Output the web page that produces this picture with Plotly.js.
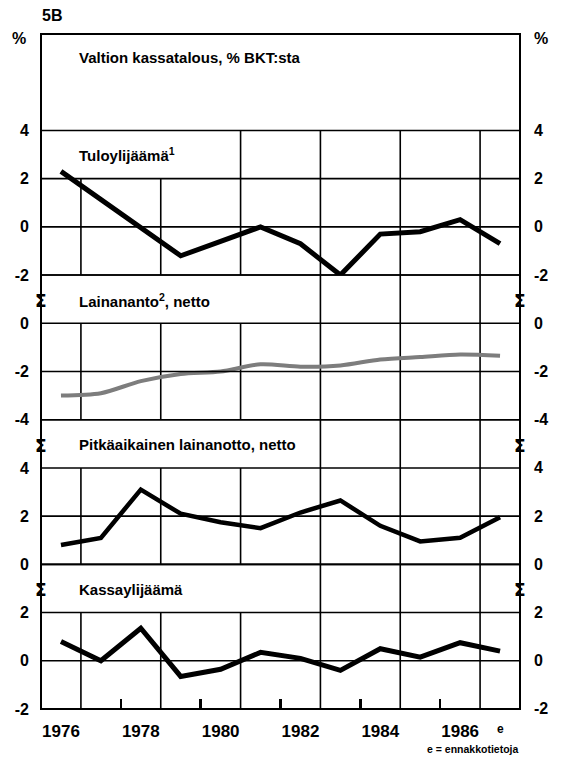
<!DOCTYPE html>
<html><head><meta charset="utf-8">
<script src="https://cdn.plot.ly/plotly-3.0.1.min.js"></script>
<style>html,body{margin:0;padding:0;background:#fff;}#chart{width:561px;height:761px;}</style>
</head><body><div id="chart"></div>
<script>
// ---- data ----
const years = [1976,1977,1978,1979,1980,1981,1982,1983,1984,1985,1986,1987];
const tuloylijaama   = [2.3, 1.15, 0.0, -1.2, -0.6, 0.0, -0.7, -2.0, -0.3, -0.2, 0.3, -0.7];
const lainananto     = [-3.0, -2.9, -2.4, -2.1, -2.0, -1.7, -1.8, -1.75, -1.5, -1.4, -1.3, -1.35];
const pitkaaikainen  = [0.8, 1.1, 3.1, 2.1, 1.75, 1.5, 2.15, 2.65, 1.6, 0.95, 1.1, 1.95];
const kassaylijaama  = [0.8, 0.0, 1.35, -0.65, -0.35, 0.35, 0.1, -0.4, 0.5, 0.15, 0.75, 0.4];
const yearTickVals = [1976,1978,1980,1982,1984,1986];
const yearTickText = ['1976','1978','1980','1982','1984','1986'];
const gridYears = [1976.5,1978.5,1980.5,1982.5,1984.5,1986.5];
const smallTickYears = [1977.5,1979.5,1981.5,1983.5,1985.5];
const forecastYear = 1987;
const chartTitle = 'Valtion kassatalous, % BKT:sta';
const panelTitles = ['Tuloylijäämä<sup>1</sup>', 'Lainananto<sup>2</sup>, netto', 'Pitkäaikainen lainanotto, netto', 'Kassaylijäämä'];
const panelTickVals = [[-2,0,2,4],[-4,-2,0],[0,2,4],[-2,0,2]];
const panelTickText = [['-2','0','2','4'],['-4','-2','0'],['0','2','4'],['-2','0','2']];
const panelGridVals = [[-2,0,2,4],[-4,-2,0,2],[0,2,4,6],[-2,0,2,4]];
const panelRanges = [[-2,4],[-4,2],[0,6],[-2,4]];
const panelTitleY = [3,1,5,3];

// ---- layout helpers ----
const SLOTS = 14;
const s = k => 1 - k/SLOTS;
const domains = [[s(5),s(2)],[s(8),s(5)],[s(11),s(8)],[s(14),s(11)]];
const FONT = 'Liberation Sans, Arial, Helvetica, sans-serif';
const axNames = ['y','y2','y3','y4'];
const GRIDW = 1.6;

const traces = [
  {x:years, y:tuloylijaama, yaxis:'y', line:{color:'#000',width:5}},
  {x:years, y:lainananto, yaxis:'y2', line:{color:'#7d7d7d',width:4,shape:'spline',smoothing:0.8}},
  {x:years, y:pitkaaikainen, yaxis:'y3', line:{color:'#000',width:4.5}},
  {x:years, y:kassaylijaama, yaxis:'y4', line:{color:'#000',width:5}}
].map(t => Object.assign({type:'scatter',mode:'lines',xaxis:'x',hoverinfo:'skip',showlegend:false}, t));

const layout = {
  width:561, height:761,
  margin:{l:41,r:41,t:34,b:52,pad:0},
  paper_bgcolor:'#fff', plot_bgcolor:'rgba(0,0,0,0)',
  font:{family:FONT,color:'#000'},
  showlegend:false,
  xaxis:{
    range:[1975.5,1987.5], anchor:'y4', fixedrange:true,
    tickvals:yearTickVals, ticktext:yearTickText, ticks:'', showgrid:false, zeroline:false, showline:false,
    tickfont:{family:FONT,size:17,weight:'bold',color:'#000'}, ticklabelstandoff:10,
    minor:{tickvals:smallTickYears, ticks:'inside', ticklen:10, tickwidth:2.5, tickcolor:'#000', showgrid:false}
  },
  shapes:[], annotations:[]
};

const vlines = [], masks = [], hlines = [];
// vertical grid lines through panels 1-4
gridYears.forEach(v => vlines.push({type:'line', layer:'between', xref:'x', x0:v, x1:v, yref:'paper', y0:0, y1:s(2),
  line:{color:'#000', width:GRIDW}}));

axNames.forEach((a,i) => {
  const key = 'yaxis' + (i===0 ? '' : (i+1));
  layout[key] = {
    domain:domains[i], range:panelRanges[i], anchor:'x', fixedrange:true,
    tickvals:panelTickVals[i], ticktext:panelTickText[i], ticks:'',
    showgrid:false, zeroline:false, showline:false,
    tickfont:{family:FONT,size:16,weight:'bold',color:'#000'}, ticklabelstandoff:11
  };
  // right-side labels
  panelTickVals[i].forEach((v,j) => {
    layout.annotations.push({xref:'paper', x:1, xanchor:'left', xshift:12, yref:a, y:v, yanchor:'middle',
      text:panelTickText[i][j], showarrow:false, font:{family:FONT,size:16,weight:'bold',color:'#000'}});
  });
  const r = panelRanges[i], d = domains[i];
  // title mask (hides vertical grid behind the panel title)
  masks.push({type:'rect', layer:'between', xref:'x', x0:1975.5, x1:(i===0 ? 1980.2 : 1980.9), yref:a, y0:r[1]-2, y1:r[1],
    fillcolor:'#fff', line:{width:0}});
  // horizontal grid lines (positioned on the panel's own value scale, mapped into its domain)
  panelGridVals[i].forEach(v => {
    const py = d[0] + (v - r[0]) / (r[1] - r[0]) * (d[1] - d[0]);
    hlines.push({type:'line', layer:'above', xref:'paper', x0:0, x1:1, yref:'paper', y0:py, y1:py,
      line:{color:'#000', width:GRIDW}});
  });
  // panel title
  layout.annotations.push({xref:'paper', x:0.075, xanchor:'left', yref:a, y:panelTitleY[i], yanchor:'middle', yshift:i===0?0:-1,
    text:panelTitles[i], showarrow:false, font:{family:FONT,size:15,weight:'bold',color:'#000'}});
  // axis-break marks
  if (i>0) {
    [0,1].forEach(px => layout.annotations.push({xref:'paper', x:px, xanchor:'center', yref:a, y:r[1]-1, yanchor:'middle', yshift:-2,
      text:'Σ', showarrow:false, font:{family:'DejaVu Sans, sans-serif',size:17,weight:'bold',color:'#000'}}));
  }
});
layout.shapes.push(...vlines, ...masks, ...hlines);
// outer frame
layout.shapes.push({type:'rect', layer:'above', xref:'paper', yref:'paper', x0:0, x1:1, y0:0, y1:1, line:{color:'#000',width:2}});

// header texts
layout.annotations.push(
  {xref:'paper', x:0.075, xanchor:'left', yref:'paper', y:s(0.5), yanchor:'middle', yshift:1, text:chartTitle, showarrow:false, font:{family:FONT,size:15,weight:'bold',color:'#000'}},
  {xref:'paper', x:0, xanchor:'left', xshift:-1, yref:'paper', y:1, yanchor:'bottom', yshift:8, text:'5B', showarrow:false, font:{family:FONT,size:16,weight:'bold',color:'#000'}},
  {xref:'paper', x:0, xanchor:'right', xshift:-13, yref:'paper', y:1, yanchor:'middle', yshift:-4, text:'%', showarrow:false, font:{family:FONT,size:16,weight:'bold',color:'#000'}},
  {xref:'paper', x:1, xanchor:'left', xshift:12, yref:'paper', y:1, yanchor:'middle', yshift:-4, text:'%', showarrow:false, font:{family:FONT,size:16,weight:'bold',color:'#000'}},
  {xref:'x', x:forecastYear, xanchor:'center', yref:'paper', y:0, yanchor:'top', yshift:-11, text:'e', showarrow:false, font:{family:FONT,size:12,weight:'bold',color:'#000'}},
  {xref:'paper', x:1, xanchor:'right', yref:'paper', y:0, yanchor:'top', yshift:-32, text:'e = ennakkotietoja', showarrow:false, font:{family:FONT,size:10.5,weight:'bold',color:'#000'}}
);

Plotly.newPlot('chart', traces, layout, {displayModeBar:false, staticPlot:true});
</script></body></html>
